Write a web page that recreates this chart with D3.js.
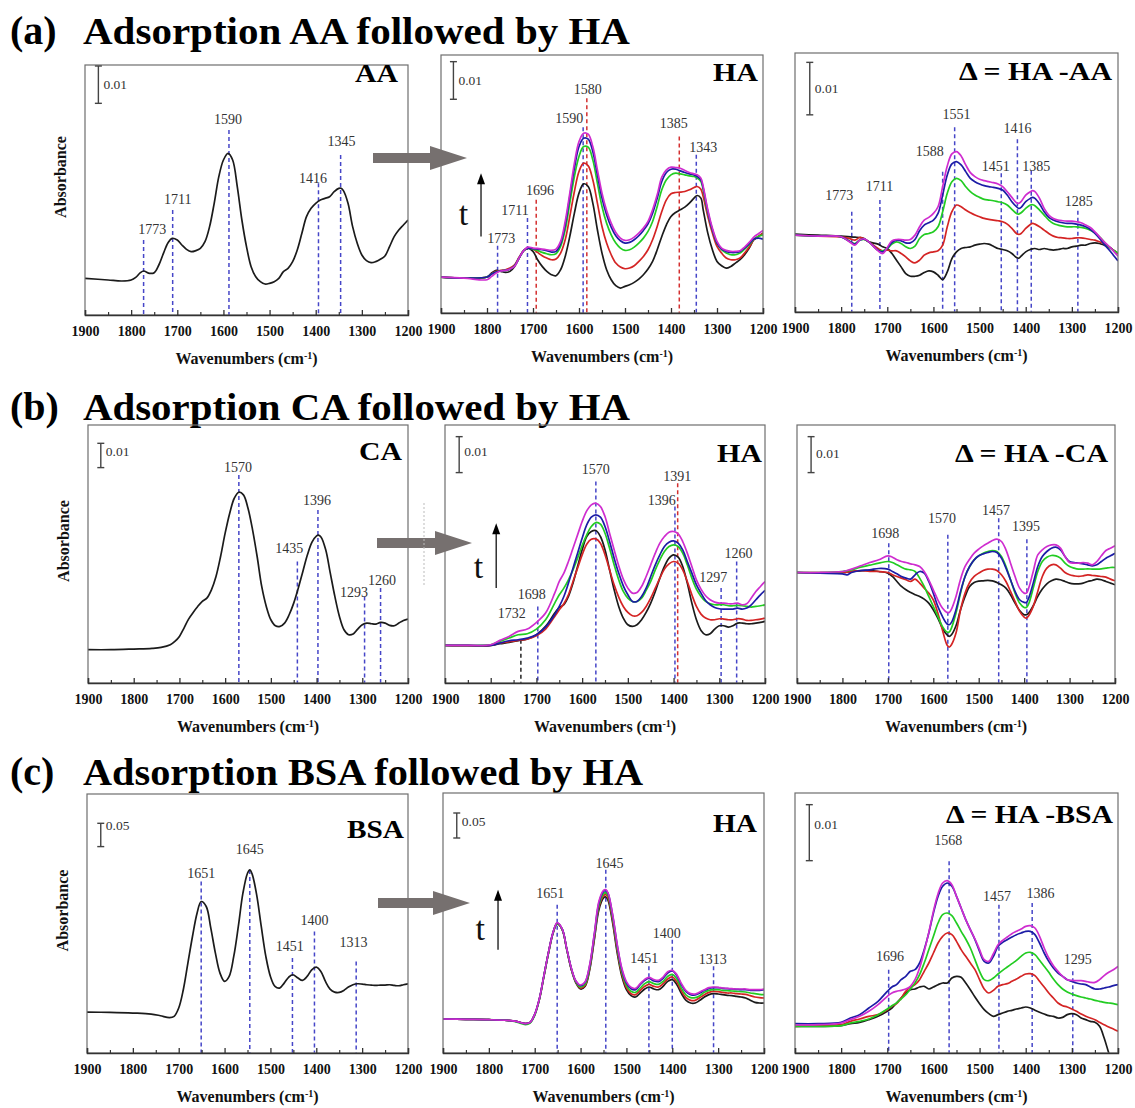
<!DOCTYPE html>
<html>
<head>
<meta charset="utf-8">
<script src="https://cdn.jsdelivr.net/npm/d3@7"></script>
<style>
  body { margin: 0; background: #fff; }
  svg { display: block; font-family: "Liberation Serif", "Times New Roman", serif; }
</style>
</head>
<body>
<div id="fig"></div>
<script>
// ===========================================================
// DATA  (absorbance in arbitrary units)
// ===========================================================
var xTicks = [1900, 1800, 1700, 1600, 1500, 1400, 1300, 1200];
var xMinor = [1850, 1750, 1650, 1550, 1450, 1350, 1250];

// (a) AA adsorbed
var wnA1 = [1900,1850,1820,1800,1790,1780,1773,1760,1750,1740,1730,1720,1711,1700,1690,1680,1670,1660,1650,1640,1630,1620,1610,1600,1590,1580,1570,1560,1550,1540,1530,1520,1510,1500,1490,1480,1470,1460,1450,1440,1430,1420,1410,1400,1390,1380,1370,1360,1350,1345,1340,1330,1320,1310,1300,1290,1280,1270,1260,1250,1240,1230,1220,1210,1200];
var a1Black = [110,105,102,105,113,127,132,125,127,150,185,217,230,225,210,197,190,193,200,220,265,335,415,465,485,465,385,285,205,145,115,100,93,95,100,110,130,140,160,195,245,295,320,335,345,350,355,370,380,380,373,335,265,215,180,163,157,160,167,177,205,235,255,270,285];

// (a) HA on AA, 5 times
var wnA2 = [1900,1850,1800,1790,1780,1770,1760,1750,1740,1730,1720,1711,1700,1690,1680,1670,1660,1650,1640,1630,1620,1610,1600,1590,1580,1570,1560,1550,1540,1530,1520,1510,1500,1490,1480,1470,1460,1450,1440,1430,1420,1410,1400,1390,1380,1370,1360,1350,1343,1335,1330,1320,1310,1300,1290,1280,1270,1260,1250,1240,1230,1220,1210,1200];
var a2Black = [108,105,108,120,128,125,122,125,140,165,187,195,185,160,140,125,115,112,130,170,230,300,360,388,380,330,250,180,130,100,82,75,80,85,92,102,115,132,155,190,230,265,290,302,310,318,330,345,353,345,310,240,190,155,142,135,140,150,160,175,195,220,230,240];
var a2Red = [108,105,108,118,125,128,130,135,145,168,188,195,192,182,172,165,160,162,180,220,290,365,425,450,442,400,330,260,210,175,150,138,133,135,142,155,170,190,220,260,305,340,358,362,363,365,370,377,380,372,350,290,240,200,180,165,160,160,165,180,198,220,230,240];
var a2Green = [108,105,108,117,123,127,128,132,142,166,188,195,192,188,182,178,175,178,200,250,330,410,470,500,498,460,390,320,270,235,210,195,188,190,198,210,225,245,275,320,370,400,415,420,418,415,412,410,405,395,370,300,250,210,190,180,175,175,180,192,205,222,230,235];
var a2Blue = [108,105,108,117,123,127,128,132,142,166,188,195,193,192,190,187,183,185,208,265,350,435,500,525,522,485,415,345,295,258,232,217,210,212,220,232,248,268,300,345,395,422,432,432,427,422,418,415,410,400,375,305,250,210,192,185,182,182,185,195,208,222,225,222];
var a2Magenta = [108,105,100,110,120,126,128,132,140,166,188,198,195,194,192,190,188,192,215,275,360,450,515,540,537,500,430,360,308,270,242,225,218,220,228,240,255,275,310,355,408,430,438,437,435,428,422,418,415,405,380,310,255,215,195,188,185,185,187,198,212,228,238,248];

// (a) difference HA - AA
var wnA3 = [1900,1850,1800,1780,1770,1760,1750,1740,1720,1710,1700,1690,1680,1670,1660,1650,1640,1630,1620,1610,1600,1590,1580,1570,1560,1550,1540,1530,1520,1510,1500,1490,1480,1470,1460,1450,1440,1430,1420,1415,1410,1400,1390,1385,1380,1370,1360,1350,1340,1330,1320,1310,1300,1290,1280,1270,1260,1250,1240,1230,1220,1210,1200];
var a3Black = [233,230,227,225,224,223,220,210,203,195,190,175,155,135,115,107,107,110,118,123,120,110,97,120,160,180,190,193,195,200,203,205,203,197,190,187,183,175,163,161,167,180,187,189,190,187,190,187,185,187,190,190,195,197,200,200,205,207,205,200,195,185,175];
var a3Red = [230,227,225,219,215,223,218,210,190,183,185,183,183,175,165,153,147,155,170,177,180,183,200,255,300,320,315,305,297,290,285,280,277,275,273,270,263,250,235,232,235,250,262,265,263,255,245,235,227,223,222,220,220,222,222,220,217,215,210,205,195,185,175];
var a3Green = [230,227,225,210,205,215,217,210,185,183,190,203,210,205,195,190,197,220,232,235,240,255,300,355,390,400,393,375,360,350,343,337,335,333,330,327,320,307,295,293,297,310,320,321,318,305,290,275,265,260,257,255,255,255,253,250,245,237,225,210,195,185,177];
var a3Blue = [230,227,225,210,203,215,218,210,185,180,190,208,215,213,207,207,217,243,260,267,275,295,350,410,443,450,440,420,400,390,383,378,375,373,370,365,350,330,315,310,313,330,340,343,340,323,300,283,275,270,267,265,265,263,260,255,247,235,220,203,187,170,153];
var a3Magenta = [230,227,225,208,200,215,219,210,183,175,193,213,217,217,215,217,230,255,275,283,295,315,375,437,473,480,467,440,417,405,397,393,390,387,383,375,360,343,327,325,330,350,360,363,360,340,310,290,280,275,273,272,272,270,267,260,253,240,225,210,197,183,167];

// (b) CA adsorbed
var wnB1 = [1900,1850,1800,1760,1740,1720,1710,1700,1690,1680,1670,1660,1650,1640,1630,1620,1610,1600,1590,1580,1570,1560,1550,1540,1530,1520,1510,1500,1490,1480,1470,1460,1450,1440,1430,1420,1410,1400,1396,1390,1380,1370,1360,1350,1340,1330,1320,1310,1300,1290,1280,1270,1260,1250,1240,1230,1220,1210,1200];
var b1Black = [100,100,102,104,107,115,125,140,165,192,212,230,245,255,280,320,380,450,510,555,573,565,525,460,380,290,230,190,172,170,180,205,240,285,335,385,423,442,444,438,400,330,260,200,160,145,147,162,175,180,178,177,182,180,173,172,180,188,192];

// (b) HA on CA
var wnB2 = [1900,1850,1800,1780,1760,1740,1720,1700,1680,1660,1650,1640,1630,1620,1610,1600,1590,1580,1570,1560,1550,1540,1530,1520,1510,1500,1490,1480,1470,1460,1450,1440,1430,1420,1410,1400,1390,1380,1370,1360,1350,1340,1330,1320,1310,1300,1290,1280,1270,1260,1250,1240,1230,1220,1210,1200];
var b2Black = [113,112,113,118,122,127,132,145,170,210,227,235,260,300,350,400,440,455,458,440,400,340,280,230,195,175,170,175,190,212,240,275,315,350,375,385,378,350,300,240,190,158,145,148,162,172,172,168,172,180,180,178,178,180,182,185];
var b2Red = [113,112,113,120,124,128,132,142,162,200,220,238,265,305,345,385,417,432,433,420,385,340,295,258,230,212,202,202,212,230,255,285,315,342,358,365,360,340,305,265,230,207,195,190,190,193,192,190,190,193,192,188,188,190,192,195];
var b2Green = [113,113,115,125,135,145,148,162,190,240,265,285,310,340,375,413,445,470,482,477,450,405,355,310,275,255,245,245,255,278,305,340,370,395,410,415,410,390,355,315,282,260,245,238,235,235,235,232,232,233,232,230,228,230,232,235];
var b2Blue = [113,113,113,120,127,130,135,145,168,205,230,260,300,345,390,435,475,498,505,498,470,425,375,330,292,265,245,245,260,285,320,355,385,410,423,427,420,400,365,330,295,270,248,235,227,223,222,222,222,225,222,225,235,250,265,278];
var b2Magenta = [113,113,115,128,140,155,162,182,210,270,305,330,365,405,445,485,517,535,540,530,500,450,400,352,312,285,270,272,290,320,355,390,420,440,453,455,448,425,390,350,310,282,262,250,243,240,240,238,238,240,235,238,255,275,290,305];

// (b) difference HA - CA
var wnB3 = [1900,1850,1800,1790,1780,1760,1740,1720,1700,1690,1680,1670,1660,1650,1640,1630,1620,1610,1600,1590,1580,1570,1565,1560,1550,1540,1530,1520,1510,1500,1490,1480,1470,1460,1450,1440,1430,1420,1410,1400,1395,1390,1380,1370,1360,1350,1340,1330,1320,1310,1300,1290,1280,1270,1260,1250,1240,1230,1220,1210,1200];
var b3Black = [332,330,332,333,335,337,338,335,330,320,305,290,280,272,265,260,252,240,220,195,165,145,140,145,172,220,260,290,302,306,307,308,307,302,295,285,265,240,218,205,205,210,232,260,282,298,307,312,310,305,300,298,298,300,305,308,312,310,305,300,295];
var b3Red = [332,332,332,333,335,338,335,335,332,325,320,315,310,305,312,300,285,270,250,210,160,115,108,115,150,220,270,302,320,330,338,342,342,338,325,305,275,245,215,198,195,202,230,275,320,345,355,355,345,332,325,322,320,322,325,323,322,320,318,312,307];
var b3Green = [332,332,335,337,340,348,354,360,365,362,355,348,342,340,335,315,290,260,230,200,170,153,153,165,210,270,320,350,370,382,390,395,398,395,380,350,310,270,240,227,227,238,285,335,365,378,383,382,375,360,350,345,342,342,343,342,342,343,345,347,347];
var b3Blue = [332,330,328,325,332,338,340,344,342,335,328,320,315,312,325,335,330,305,270,230,200,178,175,182,220,275,320,350,370,382,388,392,395,392,375,345,310,275,250,242,242,255,300,350,380,395,405,408,400,380,365,362,360,358,355,352,355,365,375,382,390];
var b3Magenta = [332,332,335,338,342,352,362,370,382,378,370,365,362,358,355,350,335,310,280,250,225,212,212,222,260,312,350,372,390,402,412,420,428,432,425,400,360,320,285,270,270,285,335,385,400,410,415,415,405,380,362,360,360,362,360,355,365,382,398,405,412];

// (c) BSA adsorbed
var wnC1 = [1900,1850,1800,1760,1740,1720,1710,1700,1690,1680,1670,1660,1651,1640,1630,1620,1610,1600,1590,1580,1570,1560,1550,1545,1540,1530,1520,1510,1500,1490,1480,1470,1460,1451,1440,1430,1420,1410,1400,1390,1380,1370,1360,1350,1340,1330,1320,1310,1300,1290,1280,1270,1260,1250,1240,1230,1220,1210,1200];
var c1Black = [123,122,120,117,112,106,110,135,190,270,350,420,455,440,375,300,240,215,230,290,380,480,540,550,538,475,380,290,230,200,195,210,228,235,225,218,230,250,258,245,215,192,183,182,188,198,205,208,207,205,204,203,204,204,205,203,202,205,208];

// (c) HA on BSA (same wavenumber grid as c1)
var wnC2 = wnC1;
var c2Black = [102,101,100,98,95,88,92,115,160,230,300,360,388,370,310,250,210,192,200,250,340,430,465,468,458,390,300,230,190,172,168,180,192,198,192,190,200,215,220,205,178,158,150,150,158,168,175,178,177,175,173,172,170,168,165,158,152,150,150];
var c2Red = [102,101,100,98,95,88,92,115,160,230,300,360,388,370,310,250,212,195,203,255,345,438,472,475,465,398,308,237,196,178,175,188,200,206,200,198,208,222,228,213,186,166,158,158,166,175,182,185,184,182,180,180,178,177,176,172,168,166,165];
var c2Green = [102,101,100,98,93,85,90,113,160,230,300,360,388,370,310,252,213,198,207,258,350,443,478,481,472,405,315,243,203,185,182,195,208,214,208,206,215,230,236,222,194,174,166,166,172,182,188,190,190,188,187,186,185,184,183,180,178,176,175];
var c2Blue = [102,101,100,98,95,88,92,116,162,232,302,362,390,372,312,253,215,202,212,263,355,450,485,488,478,412,322,250,210,193,190,205,218,224,216,214,224,240,246,232,204,184,175,174,180,188,194,196,196,194,193,192,191,190,190,188,188,188,190];
var c2Magenta = [102,101,100,98,95,88,92,116,162,232,302,362,391,372,312,254,216,204,214,266,358,455,488,490,480,415,325,254,214,197,194,208,221,227,220,218,228,244,248,235,208,187,178,177,183,190,196,198,197,195,194,193,192,192,192,190,190,190,192];

// (c) difference HA - BSA
var wnC3 = [1900,1850,1800,1780,1760,1740,1720,1700,1690,1680,1670,1660,1650,1640,1630,1620,1610,1600,1590,1580,1570,1560,1550,1540,1530,1520,1510,1500,1490,1480,1470,1460,1450,1440,1430,1420,1410,1400,1390,1380,1370,1360,1350,1340,1330,1320,1310,1300,1290,1280,1270,1260,1250,1240,1230,1220,1210,1200];
var c3Black = [80,80,82,88,92,100,110,125,135,150,165,180,190,192,198,200,192,198,205,210,210,225,230,227,210,190,168,148,130,118,110,115,120,125,128,132,135,138,135,128,122,117,112,110,105,107,115,118,115,105,100,95,92,80,45,0,-40,-80];
var c3Red = [80,82,85,95,102,110,115,130,140,148,165,185,198,205,220,245,270,300,330,350,360,355,335,310,290,270,250,220,192,180,188,200,205,208,215,222,230,237,238,232,215,198,180,165,150,142,138,132,125,117,110,105,100,92,85,78,72,65];
var c3Green = [80,80,82,90,95,102,115,132,142,150,162,175,192,210,235,270,310,350,390,415,420,412,390,365,342,315,280,245,220,217,225,237,248,258,268,278,290,300,302,295,278,260,242,222,205,192,183,177,172,168,165,162,158,155,152,150,148,145];
var c3Blue = [88,88,92,105,115,135,155,185,198,205,220,230,245,250,270,310,360,420,470,500,510,500,470,435,400,370,340,305,275,270,290,320,332,340,348,355,360,365,365,355,330,300,275,255,240,230,220,215,210,207,205,198,192,192,195,198,202,205];
var c3Magenta = [84,85,90,100,110,125,145,170,180,185,188,192,200,220,255,305,362,425,478,510,517,505,470,435,400,370,342,310,280,275,298,325,338,348,358,365,372,380,382,375,350,315,285,262,245,230,220,218,217,217,215,212,212,220,232,242,250,260];

// peak markers: [line wn, line top, label, label wn, label height, kind]
var marksA1 = [[1773,225,"1773",1754,257,"b"],[1710,315,"1711",1699,348,"b"],[1588,555,"1590",1590,588,"b"],[1394,395,"1416",1406,410,"b"],[1346,480,"1345",1344,520,"b"]];
var marksA2 = [[1777,202,"1773",1769,225,"b"],[1712,285,"1711",1739,308,"b"],[1693,340,"1696",1685,368,"r"],[1591,558,"1590",1621,583,"b"],[1583,645,"1580",1581,670,"r"],[1382,530,"1385",1394,568,"r"],[1345,475,"1343",1330,498,"b"]];
var marksA3 = [[1777,300,"1773",1804,350,"b"],[1716,335,"1711",1717,375,"b"],[1580,420,"1588",1608,480,"b"],[1554,553,"1551",1550,590,"b"],[1453,415,"1451",1465,435,"b"],[1418,517,"1416",1418,550,"b"],[1388,423,"1385",1377,435,"b"],[1287,303,"1285",1285,330,"b"]];
var marksB1 = [[1570,625,"1570",1572,648,"b"],[1442,365,"1435",1460,405,"b"],[1397,520,"1396",1399,548,"b"],[1295,260,"1293",1318,273,"b"],[1260,285,"1260",1257,307,"b"]];
var marksB2 = [[1734,130,"1732",1754,210,"k"],[1697,230,"1698",1710,265,"b"],[1570,605,"1570",1570,642,"b"],[1397,530,"1396",1426,548,"b"],[1391,600,"1391",1392,620,"r"],[1296,285,"1297",1313,318,"b"],[1262,365,"1260",1258,388,"b"]];
var marksB3 = [[1698,420,"1698",1706,450,"b"],[1568,445,"1570",1581,495,"b"],[1456,495,"1457",1462,517,"b"],[1394,432,"1395",1396,470,"b"]];
var marksC1 = [[1651,515,"1651",1651,540,"b"],[1545,550,"1645",1545,610,"b"],[1452,285,"1451",1458,320,"b"],[1404,365,"1400",1404,397,"b"],[1313,275,"1313",1319,332,"b"]];
var marksC2 = [[1651,445,"1651",1666,478,"b"],[1545,550,"1645",1537,568,"b"],[1451,260,"1451",1461,285,"b"],[1400,340,"1400",1412,360,"b"],[1310,260,"1313",1312,280,"b"]];
var marksC3 = [[1697,250,"1696",1694,290,"b"],[1566,575,"1568",1568,638,"b"],[1458,445,"1457",1462,470,"b"],[1386,450,"1386",1368,480,"b"],[1298,245,"1295",1287,282,"b"]];

// absorbance scale bars: [wn, base, length, label, label fraction from top]
var barsRowA = [[1871,635,112,"0.01",0.5],[1873,642,113,"0.01",0.5],[1868,590,157,"0.01",0.5]];
var barsRowB = [[1872,647,73,"0.01",0.34],[1869,632,108,"0.01",0.42],[1869,632,108,"0.01",0.46]];
var barsRowC = [[1870,620,70,"0.05",0.1],[1870,645,75,"0.05",0.33],[1869,577,168,"0.01",0.36]];

// time arrows in the HA panels: [wn, from, to, "t" wn, "t" height]
var timeArrows = [[1813,230,420,1851,300],[1788,285,480,1827,350],[1780,310,490,1819,375]];

var rowTitles = ["Adsorption AA followed by HA", "Adsorption CA followed by HA", "Adsorption BSA followed by HA"];
var rowTags = ["(a)", "(b)", "(c)"];
var panelNames = [["AA", "HA", "\u0394 = HA -AA"], ["CA", "HA", "\u0394 = HA -CA"], ["BSA", "HA", "\u0394 = HA -BSA"]];

// ===========================================================
// LAYOUT
// ===========================================================
var svgWidth = 1135;
var svgHeight = 1108;
var lineColors = ["#1b1b1b", "#d42424", "#22cc22", "#1c1ca6", "#cf2dcf"];
var markColors = { b: "#4646c8", r: "#d43030", k: "#222" };

var svg = d3.select("#fig").append("svg")
    .attr("width", svgWidth)
    .attr("height", svgHeight);

var boxes = [
    [{l: 85, r: 408, t: 65, b: 315}, {l: 441, r: 763, t: 55, b: 313}, {l: 795, r: 1118, t: 53, b: 312}],
    [{l: 88, r: 408, t: 425, b: 683}, {l: 445, r: 765, t: 425, b: 683}, {l: 797, r: 1115, t: 425, b: 683}],
    [{l: 87, r: 408, t: 794, b: 1053}, {l: 443, r: 764, t: 793, b: 1053}, {l: 795, r: 1118, t: 793, b: 1053}]
];
var yTops = [[750, 775, 775], [775, 775, 775], [778, 780, 780]];
var nameLayout = [ // [right inset, baseline below top, width]
    [[10, 17, 43], [5, 26, 45], [6, 27, 153]],
    [[6, 35, 43], [3, 37, 45], [7, 37, 153]],
    [[4, 44, 57], [7, 39, 44], [5, 30, 167]]
];
var titleBase = [44, 420, 785];
var titleWidth = [547, 547, 560];
var arrowsRow = [{x0: 373, x1: 467, y: 158}, {x0: 377, x1: 472, y: 543}, {x0: 378, x1: 470, y: 903}];

var panelData = [
    [{wn: wnA1, series: [a1Black]}, {wn: wnA2, series: [a2Black, a2Red, a2Green, a2Blue, a2Magenta]}, {wn: wnA3, series: [a3Black, a3Red, a3Green, a3Blue, a3Magenta]}],
    [{wn: wnB1, series: [b1Black]}, {wn: wnB2, series: [b2Black, b2Red, b2Green, b2Blue, b2Magenta]}, {wn: wnB3, series: [b3Black, b3Red, b3Green, b3Blue, b3Magenta]}],
    [{wn: wnC1, series: [c1Black]}, {wn: wnC2, series: [c2Black, c2Red, c2Green, c2Blue, c2Magenta]}, {wn: wnC3, series: [c3Black, c3Red, c3Green, c3Blue, c3Magenta]}]
];
var marks = [[marksA1, marksA2, marksA3], [marksB1, marksB2, marksB3], [marksC1, marksC2, marksC3]];
var bars = [barsRowA, barsRowB, barsRowC];

// ===========================================================
// DRAW
// ===========================================================
function drawPanel(ri, ci) {
    var box = boxes[ri][ci];
    var pd = panelData[ri][ci];
    var x = d3.scaleLinear().domain([1900, 1200]).range([box.l, box.r]);
    var y = d3.scaleLinear().domain([0, yTops[ri][ci]]).range([box.b, box.t]);
    var g = svg.append("g");
    var clipId = "clip" + ri + ci;

    g.append("clipPath").attr("id", clipId)
        .append("rect")
        .attr("x", box.l).attr("y", box.t)
        .attr("width", box.r - box.l).attr("height", box.b - box.t);

    // peak markers
    var mk = g.append("g");
    marks[ri][ci].forEach(function(m) {
        mk.append("line")
            .attr("x1", x(m[0])).attr("x2", x(m[0]))
            .attr("y1", y(m[1])).attr("y2", box.b)
            .attr("stroke", markColors[m[5]])
            .attr("stroke-width", 1.5)
            .attr("stroke-dasharray", "4,3");
        mk.append("text")
            .attr("x", x(m[3])).attr("y", y(m[4]))
            .attr("text-anchor", "middle")
            .attr("dominant-baseline", "central")
            .style("font-size", "14px")
            .attr("fill", "#333")
            .text(m[2]);
    });

    // spectra
    var line = d3.line()
        .x(function(d) { return x(d[0]); })
        .y(function(d) { return y(d[1]); })
        .curve(d3.curveCatmullRom.alpha(0.5));
    var cg = g.append("g").attr("clip-path", "url(#" + clipId + ")");
    pd.series.forEach(function(s, i) {
        cg.append("path")
            .datum(pd.wn.map(function(w, k) { return [w, s[k]]; }))
            .attr("d", line)
            .attr("fill", "none")
            .attr("stroke", lineColors[i])
            .attr("stroke-width", 1.7)
            .attr("stroke-linejoin", "round");
    });

    // frame
    g.append("rect")
        .attr("x", box.l).attr("y", box.t)
        .attr("width", box.r - box.l).attr("height", box.b - box.t)
        .attr("fill", "none").attr("stroke", "#6e6e6e").attr("stroke-width", 1.2);

    // x axis
    var ax = g.append("g").attr("transform", "translate(0," + box.b + ")")
        .call(d3.axisBottom(x).tickValues(xTicks).tickSize(-5).tickPadding(11).tickFormat(d3.format("d")));
    ax.select(".domain").attr("stroke", "#333").attr("stroke-width", 1.4);
    ax.selectAll(".tick line").attr("stroke", "#333").attr("stroke-width", 1.3);
    ax.selectAll("text")
        .style("font-family", "\"Liberation Serif\", \"Times New Roman\", serif")
        .style("font-size", "14px").style("font-weight", "bold").attr("fill", "#111");
    var minor = g.append("g").attr("transform", "translate(0," + box.b + ")")
        .call(d3.axisBottom(x).tickValues(xMinor).tickSize(-3).tickFormat(""));
    minor.select(".domain").remove();
    minor.selectAll(".tick line").attr("stroke", "#333").attr("stroke-width", 1.2);

    var xt = g.append("text")
        .attr("x", (box.l + box.r) / 2).attr("y", box.b + 49)
        .attr("text-anchor", "middle")
        .style("font-size", "16px").style("font-weight", "bold").attr("fill", "#111");
    xt.append("tspan").text("Wavenumbers (cm");
    xt.append("tspan").attr("baseline-shift", "super").style("font-size", "10px").text("-1");
    xt.append("tspan").text(")");

    // scale bar
    var b = bars[ri][ci];
    var bx = x(b[0]), yb = y(b[1]), yt = y(b[1] + b[2]);
    g.append("line").attr("x1", bx).attr("x2", bx).attr("y1", yb).attr("y2", yt)
        .attr("stroke", "#444").attr("stroke-width", 1.4);
    [yb, yt].forEach(function(v) {
        g.append("line").attr("x1", bx - 3.5).attr("x2", bx + 3.5).attr("y1", v).attr("y2", v)
            .attr("stroke", "#444").attr("stroke-width", 1.4);
    });
    g.append("text")
        .attr("x", bx + 5).attr("y", yt + (yb - yt) * b[4])
        .attr("dominant-baseline", "central")
        .style("font-size", "13.5px").attr("fill", "#333")
        .text(b[3]);

    // panel name
    var nl = nameLayout[ri][ci];
    g.append("text")
        .attr("x", box.r - nl[0]).attr("y", box.t + nl[1])
        .attr("text-anchor", "end")
        .attr("textLength", nl[2]).attr("lengthAdjust", "spacingAndGlyphs")
        .style("font-size", "25px").style("font-weight", "bold").attr("fill", "#000")
        .text(panelNames[ri][ci]);

    // time arrow in HA panel
    if (ci === 1) {
        var ta = timeArrows[ri];
        var axp = x(ta[0]);
        g.append("line").attr("x1", axp).attr("x2", axp)
            .attr("y1", y(ta[1])).attr("y2", y(ta[2]) + 8)
            .attr("stroke", "#111").attr("stroke-width", 1.3);
        g.append("path")
            .attr("d", "M" + axp + "," + y(ta[2]) + "l-4,11h8z")
            .attr("fill", "#000");
        g.append("text")
            .attr("x", x(ta[3])).attr("y", y(ta[4]))
            .attr("text-anchor", "middle").attr("dominant-baseline", "central")
            .style("font-size", "34px").attr("fill", "#111")
            .text("t");
    }

    // y label on first panel of each row
    if (ci === 0) {
        g.append("text")
            .attr("transform", "translate(" + (box.l - 25) + "," + ((box.t + box.b) / 2 - 13) + ") rotate(-90)")
            .attr("text-anchor", "middle")
            .attr("dominant-baseline", "central")
            .style("font-size", "16px").style("font-weight", "bold").attr("fill", "#111")
            .text("Absorbance");
    }
}

rowTitles.forEach(function(t, ri) {
    svg.append("text")
        .attr("x", 10).attr("y", titleBase[ri])
        .style("font-size", "40px").style("font-weight", "bold").attr("fill", "#000")
        .text(rowTags[ri]);
    svg.append("text")
        .attr("x", 83).attr("y", titleBase[ri])
        .attr("textLength", titleWidth[ri]).attr("lengthAdjust", "spacingAndGlyphs")
        .style("font-size", "38px").style("font-weight", "bold").attr("fill", "#000")
        .text(t);
    for (var ci = 0; ci < 3; ci++) drawPanel(ri, ci);

    // grey block arrow between first and second panel
    var a = arrowsRow[ri];
    var hx = a.x1 - 37;
    svg.append("path")
        .attr("d", "M" + a.x0 + "," + (a.y - 5) + "H" + hx + "V" + (a.y - 12) + "L" + a.x1 + "," + a.y +
            "L" + hx + "," + (a.y + 12) + "V" + (a.y + 5) + "H" + a.x0 + "Z")
        .attr("fill", "#76706f");
});

// faint dotted guide left of panel (b) HA
svg.append("line")
    .attr("x1", 424).attr("x2", 424).attr("y1", 503).attr("y2", 587)
    .attr("stroke", "#bbb").attr("stroke-width", 1).attr("stroke-dasharray", "2,2");
</script>
</body>
</html>
